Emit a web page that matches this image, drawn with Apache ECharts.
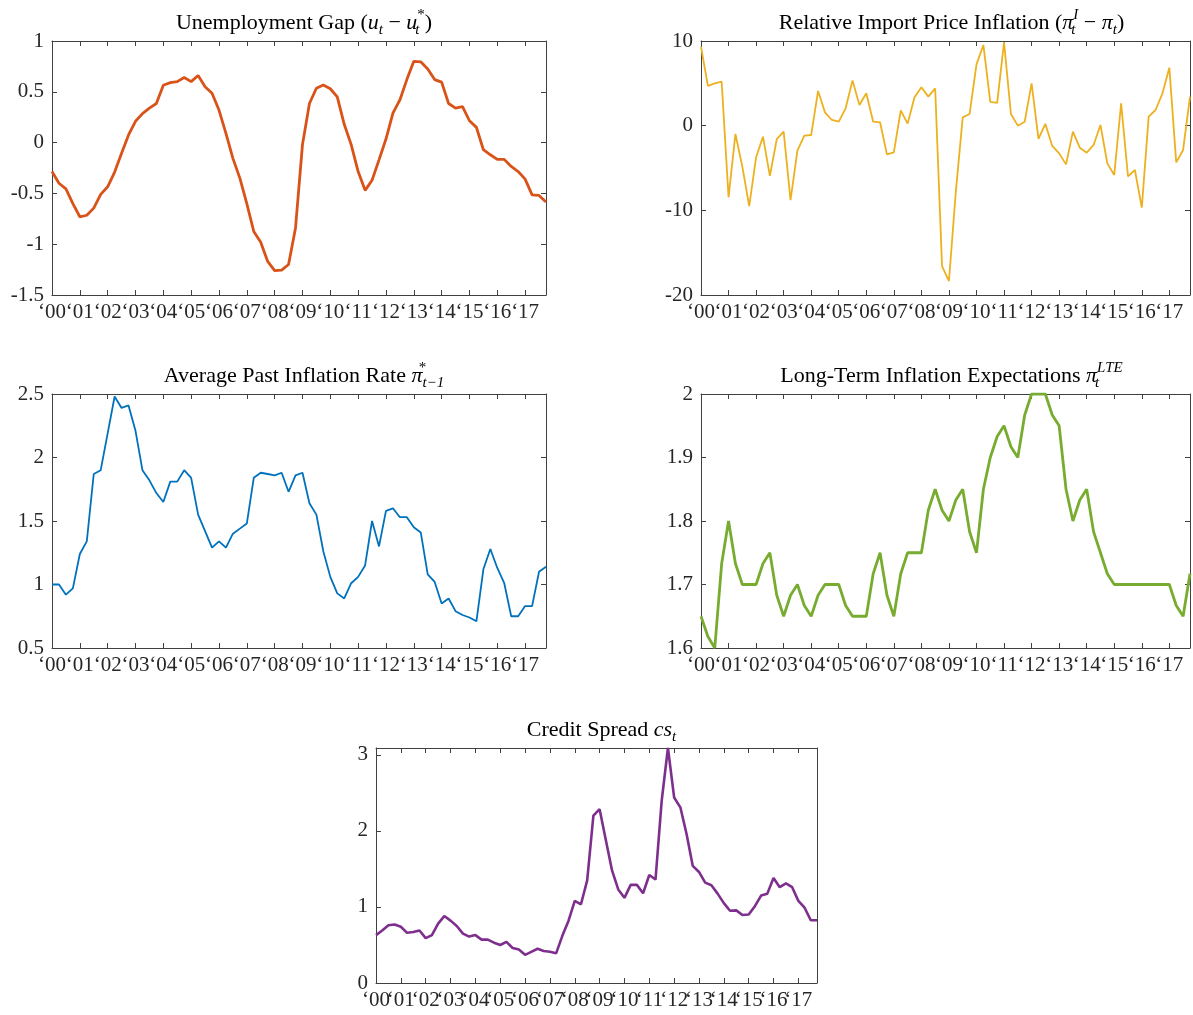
<!DOCTYPE html>
<html>
<head>
<meta charset="utf-8">
<script src="https://cdn.jsdelivr.net/npm/echarts@6/dist/echarts.min.js"></script>
<style>
  html, body { margin: 0; padding: 0; background: #fff; }
  #main { width: 1193px; height: 1015px; }
</style>
</head>
<body>
<div id="main"></div>
<script>
// quarterly observations, 2000Q1 .. 2017Q4
const startYear = 2000;

const unempGap = [-0.285, -0.40, -0.455, -0.60, -0.73, -0.715, -0.645, -0.51, -0.435, -0.29,
  -0.105, 0.075, 0.21, 0.285, 0.34, 0.385, 0.565, 0.59, 0.60, 0.64,
  0.60, 0.66, 0.55, 0.485, 0.32, 0.09, -0.155, -0.35, -0.60, -0.875,
  -0.98, -1.17, -1.26, -1.255, -1.20, -0.84, -0.02, 0.385, 0.535, 0.567,
  0.53, 0.45, 0.18, -0.02, -0.285, -0.47, -0.37, -0.17, 0.035, 0.29,
  0.42, 0.62, 0.80, 0.795, 0.725, 0.62, 0.595, 0.385, 0.34, 0.355,
  0.215, 0.15, -0.07, -0.12, -0.165, -0.165, -0.235, -0.285, -0.36, -0.515,
  -0.52, -0.585];

const importInfl = [9.33, 4.7, 5.0, 5.2, -8.46, -0.98, -4.84, -9.5, -3.74, -1.3,
  -5.94, -1.6, -0.7, -8.8, -2.95, -1.18, -1.1, 4.1, 1.57, 0.67,
  0.47, 2.05, 5.35, 2.44, 3.82, 0.47, 0.4, -3.39, -3.15, 1.81,
  0.24, 3.35, 4.53, 3.43, 4.4, -16.6, -18.35, -7.8, 0.98, 1.38,
  7.24, 9.53, 2.8, 2.68, 9.84, 1.38, 0, 0.47, 5.0, -1.57,
  0.2, -2.4, -3.27, -4.57, -0.7, -2.6, -3.19, -2.28, 0.08, -4.45,
  -5.83, 2.64, -6.0, -5.24, -9.69, 1.06, 1.85, 3.82, 6.85, -4.33,
  -2.87, 3.43];

const pastInfl = [1.00, 1.00, 0.92, 0.97, 1.24, 1.34, 1.87, 1.90, 2.19, 2.48,
  2.39, 2.41, 2.21, 1.90, 1.82, 1.72, 1.65, 1.81, 1.81, 1.90,
  1.84, 1.55, 1.42, 1.29, 1.34, 1.29, 1.40, 1.44, 1.48, 1.84,
  1.88, 1.87, 1.86, 1.88, 1.73, 1.86, 1.88, 1.64, 1.55, 1.26,
  1.06, 0.93, 0.89, 1.01, 1.06, 1.15, 1.50, 1.30, 1.58, 1.60,
  1.53, 1.53, 1.45, 1.41, 1.08, 1.02, 0.85, 0.89, 0.79, 0.76,
  0.74, 0.71, 1.12, 1.28, 1.13, 1.01, 0.75, 0.75, 0.83, 0.83,
  1.10, 1.14];

const lteInfl = [1.65, 1.618, 1.60, 1.733, 1.80, 1.733, 1.70, 1.70, 1.70, 1.733,
  1.75, 1.683, 1.65, 1.683, 1.70, 1.667, 1.65, 1.683, 1.70, 1.70,
  1.70, 1.667, 1.65, 1.65, 1.65, 1.717, 1.75, 1.683, 1.65, 1.717,
  1.75, 1.75, 1.75, 1.817, 1.85, 1.817, 1.80, 1.833, 1.85, 1.783,
  1.75, 1.85, 1.90, 1.933, 1.95, 1.917, 1.90, 1.967, 2.0, 2.0,
  2.0, 1.967, 1.95, 1.85, 1.80, 1.833, 1.85, 1.783, 1.75, 1.717,
  1.70, 1.70, 1.70, 1.70, 1.70, 1.70, 1.70, 1.70, 1.70, 1.667,
  1.65, 1.717];

const creditSpread = [0.63, 0.69, 0.76, 0.77, 0.74, 0.66, 0.67, 0.69, 0.59, 0.63,
  0.78, 0.88, 0.82, 0.75, 0.65, 0.61, 0.63, 0.57, 0.57, 0.53,
  0.50, 0.54, 0.46, 0.44, 0.37, 0.41, 0.45, 0.42, 0.41, 0.39,
  0.62, 0.82, 1.08, 1.035, 1.35, 2.20, 2.285, 1.88, 1.48, 1.23,
  1.12, 1.29, 1.29, 1.18, 1.42, 1.36, 2.40, 3.09, 2.44, 2.31,
  1.96, 1.54, 1.46, 1.32, 1.285, 1.175, 1.05, 0.95, 0.955, 0.895,
  0.90, 1.01, 1.15, 1.175, 1.38, 1.26, 1.31, 1.26, 1.08, 0.99,
  0.825, 0.825];

// quarter names on the x axis; a label is printed at every first quarter
const quarters = unempGap.map((_, i) => (startYear + Math.floor(i / 4)) + 'Q' + (i % 4 + 1));

const titles = [
  '{n|Unemployment Gap (}{i|u}{sb|t}{n| − }{i|u}{sbz|t}{sp|*}{n|)}',
  '{n|Relative Import Price Inflation (}{i|π}{sbz|t}{spi|I}{n| − }{i|π}{sb|t}{n|)}',
  '{n|Average Past Inflation Rate }{i|π}{spz|*}{sb|t−1}',
  '{n|Long-Term Inflation Expectations }{i|π}{sbz|t}{spi|LTE}',
  '{n|Credit Spread }{i|cs}{sb|t}'
];

const FONT = 'Liberation Serif';
const AXIS = '#404040';

const panels = [
  { data: unempGap, color: '#D95319', lw: 2.8, min: -1.5, max: 1, interval: 0.5,
    box: { left: 52, top: 41, width: 494, height: 254 } },
  { data: importInfl, color: '#EDB120', lw: 1.8, min: -20, max: 10, interval: 10,
    box: { left: 701, top: 41, width: 491, height: 254 } },
  { data: pastInfl, color: '#0072BD', lw: 1.8, min: 0.5, max: 2.5, interval: 0.5,
    box: { left: 52, top: 394, width: 494, height: 254 } },
  { data: lteInfl, color: '#77AC30', lw: 2.8, min: 1.6, max: 2.0, interval: 0.1,
    box: { left: 701, top: 394, width: 491, height: 254 } },
  { data: creditSpread, color: '#7E2F8E', lw: 2.6, min: 0, max: 'dataMax', interval: 1,
    box: { left: 376, top: 748, width: 441, height: 235 } }
];

const lastX = startYear + (quarters.length - 1) / 4;
const isYearStart = i => i % 4 === 0;
const yearLabel = (q, i) => isYearStart(i) ? '\u2018' + q.slice(2, 4) : '';

const sub = { fontFamily: FONT, fontSize: 15, fontStyle: 'italic', fontWeight: 'normal', color: '#000',
  lineHeight: 18, verticalAlign: 'bottom' };
const sup = { fontFamily: FONT, fontSize: 15, fontWeight: 'normal', color: '#000',
  lineHeight: 20, verticalAlign: 'top' };
const rich = {
  n: { fontFamily: FONT, fontSize: 22, fontWeight: 'normal', color: '#000', lineHeight: 30 },
  i: { fontFamily: FONT, fontSize: 22, fontStyle: 'italic', fontWeight: 'normal', color: '#000', lineHeight: 30 },
  sb: sub,
  sbz: Object.assign({}, sub, { width: 0 }),
  sp: sup,
  spz: Object.assign({}, sup, { width: 0 }),
  spi: Object.assign({}, sup, { fontStyle: 'italic' })
};

const grid = [], xAxis = [], yAxis = [], series = [], title = [];

panels.forEach((p, k) => {
  grid.push(Object.assign({ containLabel: false }, p.box));
  title.push({
    text: titles[k],
    left: p.box.left + p.box.width / 2,
    top: p.box.top - 38,
    textAlign: 'center',
    textStyle: { fontWeight: 'normal', rich: rich }
  });
  const tick = { show: true, inside: true, length: 5, lineStyle: { color: AXIS } };
  const line = { show: true, onZero: false, lineStyle: { color: AXIS, width: 1 } };
  xAxis.push({
    type: 'category', gridIndex: k, position: 'bottom', data: quarters, boundaryGap: false,
    axisLine: line, splitLine: { show: false },
    axisTick: Object.assign({}, tick, { interval: 0, customValues: quarters.map((q, i) => i).filter(isYearStart) }),
    axisLabel: { interval: 0, formatter: yearLabel, hideOverlap: false,
      margin: 7, fontFamily: FONT, fontSize: 21, color: '#262626' }
  });
  xAxis.push({
    type: 'value', gridIndex: k, position: 'top', min: startYear, max: lastX, interval: 1,
    axisLine: line, axisTick: tick, splitLine: { show: false }, axisLabel: { show: false }
  });
  yAxis.push({
    type: 'value', gridIndex: k, position: 'left', min: p.min, max: p.max, interval: p.interval,
    axisLine: line, axisTick: tick, splitLine: { show: false },
    axisLabel: { showMinLabel: true, showMaxLabel: k !== 4, margin: 8,
      fontFamily: FONT, fontSize: 21, color: '#262626' }
  });
  yAxis.push({
    type: 'value', gridIndex: k, position: 'right', min: p.min, max: p.max, interval: p.interval,
    axisLine: line, axisTick: tick, splitLine: { show: false }, axisLabel: { show: false }
  });
  series.push({
    type: 'line',
    xAxisIndex: 2 * k,
    yAxisIndex: 2 * k,
    data: p.data,
    showSymbol: false,
    silent: true,
    animation: false,
    lineStyle: { color: p.color, width: p.lw },
    clip: true
  });
});

const chart = echarts.init(document.getElementById('main'));
chart.setOption({
  animation: false,
  backgroundColor: '#fff',
  title: title,
  grid: grid,
  xAxis: xAxis,
  yAxis: yAxis,
  series: series
});
</script>
</body>
</html>
